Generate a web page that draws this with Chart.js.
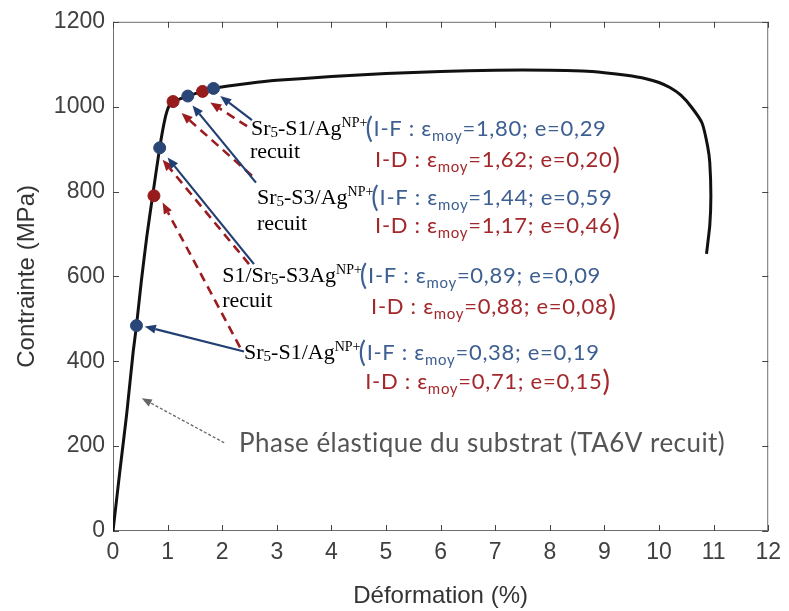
<!DOCTYPE html>
<html><head><meta charset="utf-8">
<script src="https://cdn.jsdelivr.net/npm/chart.js@4/dist/chart.umd.min.js"></script>
<style>html,body{margin:0;padding:0;background:#fff}#wrap{width:789px;height:611px}</style>
</head><body><div id="wrap"><canvas id="c" width="789" height="611"></canvas></div>
<script>
// ---- data ----
const curveX = [0, 0.12, 0.25, 0.37, 0.43, 0.52, 0.62, 0.72, 0.855, 0.95, 1.02, 1.10, 1.37, 1.64, 1.84, 2.5, 3, 4, 5, 6, 7, 8, 8.6, 9.0, 9.4, 9.76, 10.0, 10.2, 10.4, 10.6, 10.79, 10.89, 10.93, 10.95, 10.93, 10.87];
const curveY = [0, 135, 275, 423, 484, 590, 695, 785, 903, 970, 1000, 1012, 1025, 1036, 1043, 1055, 1062, 1071, 1078, 1083, 1086, 1086, 1084, 1080, 1074, 1066, 1057, 1045, 1027, 998, 961, 907, 868, 790, 720, 653];
const ifDotX = [0.43, 0.855, 1.37, 1.84];
const ifDotY = [484, 903, 1025, 1043];
const idDotX = [0.75, 1.10, 1.64];
const idDotY = [790, 1012, 1036];
const xTickValues = [0,1,2,3,4,5,6,7,8,9,10,11,12];
const yTickValues = [0,200,400,600,800,1000,1200];
const sampleNames = [["Sr","5","-S1/Ag","NP+"],["Sr","5","-S3/Ag","NP+"],["S1/Sr","5","-S3Ag","NP+"],["Sr","5","-S1/Ag","NP+"]];
const sampleRecuit = [true, true, true, false];
const ifMean = [1.80, 1.44, 0.89, 0.38];
const ifE = [0.29, 0.59, 0.09, 0.19];
const idMean = [1.62, 1.17, 0.88, 0.71];
const idE = [0.20, 0.46, 0.08, 0.15];
const xTitle = "Déformation (%)";
const yTitle = "Contrainte (MPa)";
const noteText = "Phase élastique du substrat (TA6V recuit)";

// ---- annotation placement (data coordinates) ----
const labelPos = [[2.527, 933], [2.636, 770], [2.0, 587], [2.4, 405]];
const recuitPos = [[2.509, 879], [2.636, 709], [2.0, 529], null];
const idPos = [[4.8, 858], [4.8, 702], [4.727, 512], [4.618, 334]];
const notePos = [2.309, 187];
const blueArrows = [[2.545,968,1.964,1025],[2.618,821,1.455,1003],[2.582,629,1.0,880],[2.4,423,0.582,482]];
const redArrows = [[2.455,954,1.782,1010],[2.545,837,1.255,985],[2.491,629,0.909,875],[2.327,433,0.909,774]];
const noteArrow = [2.036,208,0.527,313];

const BLUE = '#223f73', RED = '#9b1b1f', BLUE_T = '#3d5f91', RED_T = '#a3282b';
const fmt = v => v.toFixed(2).replace('.', ',');

function runs(ctx, x, y, list, spacing) {
  ctx.textBaseline = 'alphabetic'; ctx.textAlign = 'left';
  ctx.letterSpacing = (spacing || 0) + 'px';
  for (const r of list) {
    ctx.font = r.f; ctx.fillStyle = r.c;
    ctx.fillText(r.t, x, y + (r.dy || 0));
    x += ctx.measureText(r.t).width;
  }
  ctx.letterSpacing = '0px';
  return x;
}
function arrow(ctx, x1, y1, x2, y2, color, w, dash, hl, hw) {
  const a = Math.atan2(y2 - y1, x2 - x1);
  const bx = x2 - hl * Math.cos(a), by = y2 - hl * Math.sin(a);
  ctx.save();
  ctx.strokeStyle = color; ctx.fillStyle = color; ctx.lineWidth = w; ctx.setLineDash(dash);
  ctx.beginPath(); ctx.moveTo(x1, y1); ctx.lineTo(bx, by); ctx.stroke();
  ctx.setLineDash([]);
  ctx.beginPath(); ctx.moveTo(x2, y2);
  ctx.lineTo(bx + hw / 2 * Math.sin(a), by - hw / 2 * Math.cos(a));
  ctx.lineTo(bx - hw / 2 * Math.sin(a), by + hw / 2 * Math.cos(a));
  ctx.closePath(); ctx.fill();
  ctx.restore();
}

const SERIF = '"Liberation Serif", "Times New Roman", serif';
const SANS = 'Lato, "Open Sans", sans-serif';
const AXF = '"Liberation Sans", Arial, sans-serif';

const framePlugin = {
  id: 'frame',
  beforeDatasetsDraw(chart) {
    const {ctx, chartArea: a, scales: {x, y}} = chart;
    ctx.save();
    ctx.strokeStyle = '#6e6e6e'; ctx.lineWidth = 1;
    ctx.strokeRect(a.left + 0.5, a.top + 0.5, a.right - a.left - 1, a.bottom - a.top - 1);
    ctx.strokeStyle = '#444'; ctx.beginPath();
    for (const t of x.ticks) {
      const p = Math.round(x.getPixelForValue(t.value)) + 0.5;
      ctx.moveTo(p, a.bottom); ctx.lineTo(p, a.bottom - 6);
      ctx.moveTo(p, a.top); ctx.lineTo(p, a.top + 6);
    }
    for (const t of y.ticks) {
      const p = Math.round(y.getPixelForValue(t.value)) + 0.5;
      ctx.moveTo(a.left, p); ctx.lineTo(a.left + 6, p);
      ctx.moveTo(a.right, p); ctx.lineTo(a.right - 6, p);
    }
    ctx.stroke();
    ctx.restore();
  },
  afterDatasetsDraw(chart) {
    const {ctx, scales: {x, y}} = chart;
    const X = v => x.getPixelForValue(v), Y = v => y.getPixelForValue(v);
    ctx.save();
    arrow(ctx, X(noteArrow[0]), Y(noteArrow[1]), X(noteArrow[2]), Y(noteArrow[3]), '#666', 1.3, [3, 2], 10, 8);
    redArrows.forEach(r => arrow(ctx, X(r[0]), Y(r[1]), X(r[2]), Y(r[3]), RED, 2.6, [9, 6], 11, 9));
    blueArrows.forEach(r => arrow(ctx, X(r[0]), Y(r[1]), X(r[2]), Y(r[3]), BLUE, 2.2, [], 11, 9));
    const big = '22px ' + SERIF, small = '15px ' + SERIF, sup = '14px ' + SERIF;
    const tf = '22px ' + SANS, tsub = '15px ' + SANS, par = '28px ' + SANS;
    sampleNames.forEach((n, i) => {
      const lx = X(labelPos[i][0]), ly = Y(labelPos[i][1]);
      const end = runs(ctx, lx, ly, [
        {t: n[0], f: big, c: '#000'}, {t: n[1], f: small, c: '#000', dy: 2},
        {t: n[2], f: big, c: '#000'}, {t: n[3], f: sup, c: '#000', dy: -8}]);
      runs(ctx, end - 2, ly + 1, [
        {t: '(', f: par, c: BLUE_T, dy: 2}, {t: 'I-F : ε', f: tf, c: BLUE_T},
        {t: 'moy', f: tsub, c: BLUE_T, dy: 5}, {t: '=' + fmt(ifMean[i]) + '; e=' + fmt(ifE[i]), f: tf, c: BLUE_T}], 0.7);
      if (sampleRecuit[i]) runs(ctx, X(recuitPos[i][0]), Y(recuitPos[i][1]), [{t: 'recuit', f: big, c: '#000'}]);
      runs(ctx, X(idPos[i][0]), Y(idPos[i][1]), [
        {t: 'I-D : ε', f: tf, c: RED_T}, {t: 'moy', f: tsub, c: RED_T, dy: 5},
        {t: '=' + fmt(idMean[i]) + '; e=' + fmt(idE[i]), f: tf, c: RED_T}, {t: ')', f: par, c: RED_T, dy: 2}], 0.7);
    });
    runs(ctx, X(notePos[0]), Y(notePos[1]), [{t: noteText, f: '26px ' + SANS, c: '#555'}], 0.45);
    ctx.restore();
  }
};

new Chart(document.getElementById('c'), {
  type: 'scatter',
  data: {
    datasets: [
      {data: curveX.map((v, i) => ({x: v, y: curveY[i]})), showLine: true, borderColor: '#111', borderWidth: 3, pointRadius: 0, tension: 0.15, order: 3},
      {data: ifDotX.map((v, i) => ({x: v, y: ifDotY[i]})), backgroundColor: '#2a4677', borderColor: '#2a4677', pointRadius: 6, order: 1},
      {data: idDotX.map((v, i) => ({x: v, y: idDotY[i]})), backgroundColor: '#971a1c', borderColor: '#971a1c', pointRadius: 6, order: 2}
    ]
  },
  options: {
    responsive: false, animation: false, devicePixelRatio: 1,
    layout: {padding: {left: 0, top: 18, right: 16, bottom: 0}},
    plugins: {legend: {display: false}, tooltip: {enabled: false}},
    scales: {
      x: {
        type: 'linear', min: 0, max: 12,
        afterBuildTicks: s => { s.ticks = xTickValues.map(v => ({value: v})); },
        ticks: {font: {family: AXF, size: 23}, color: '#404040', padding: 8, maxRotation: 0, callback: v => String(v)},
        grid: {display: false, drawTicks: false}, border: {display: false},
        title: {display: true, text: xTitle, font: {family: AXF, size: 24}, color: '#333', padding: {top: 0, bottom: 0}},
        afterFit: s => { s.height = 80; }
      },
      y: {
        type: 'linear', min: 0, max: 1200,
        afterBuildTicks: s => { s.ticks = yTickValues.map(v => ({value: v})); },
        ticks: {font: {family: AXF, size: 23}, color: '#404040', padding: 8, callback: v => String(v)},
        grid: {display: false, drawTicks: false}, border: {display: false},
        title: {display: true, text: yTitle, font: {family: AXF, size: 24}, color: '#333', padding: {top: 13, bottom: 0}},
        afterFit: s => { s.width = 113; }
      }
    }
  },
  plugins: [framePlugin]
});
</script>
</body></html>
